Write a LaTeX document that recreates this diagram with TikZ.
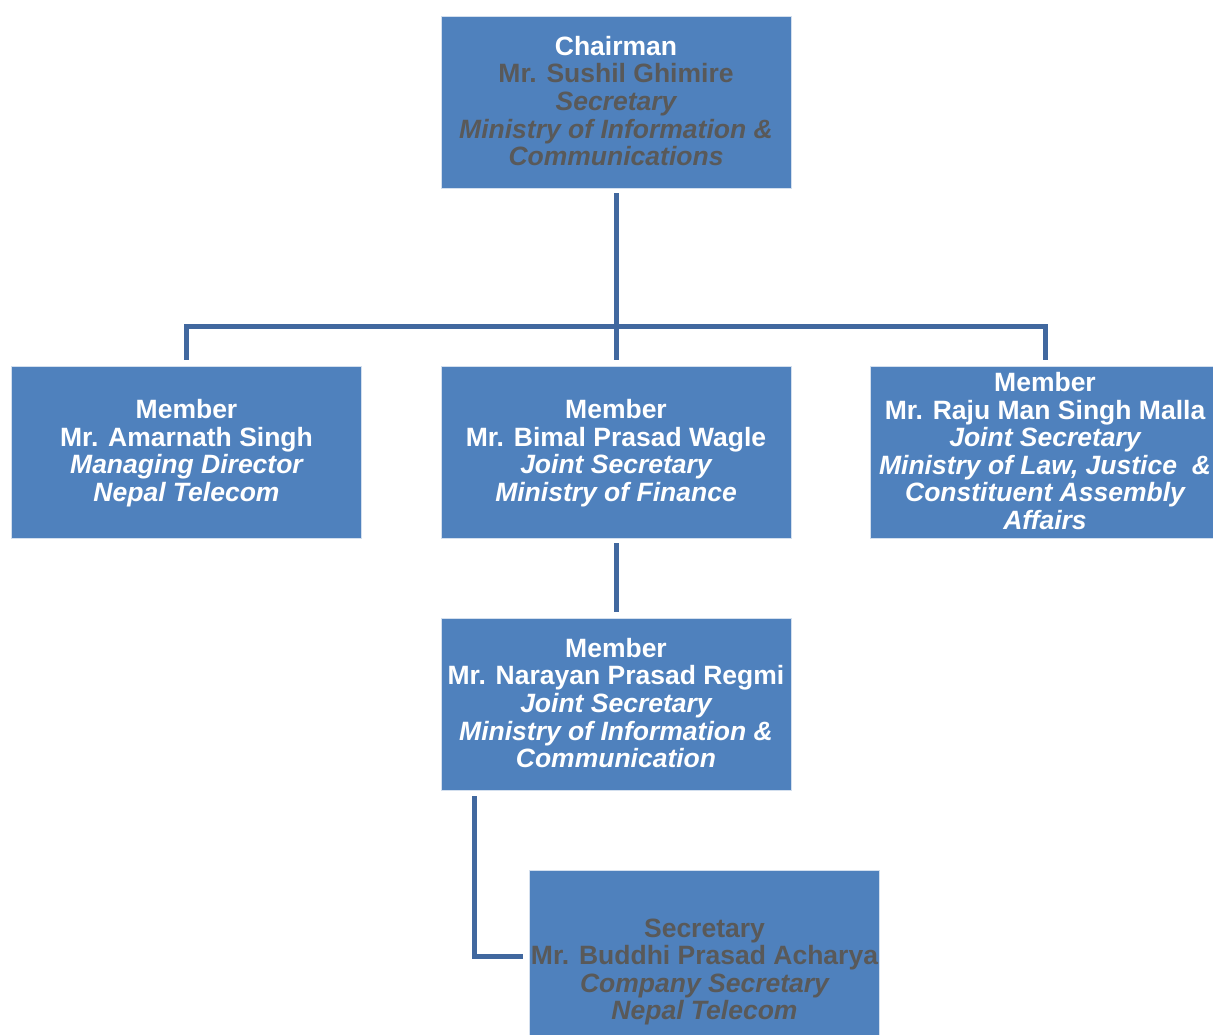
\documentclass[tikz,border=0pt]{standalone}
\usepackage{fontspec}
\setmainfont{Liberation Sans}
\definecolor{boxblue}{HTML}{4F81BD}
\definecolor{lineblue}{HTML}{41689F}
\definecolor{graytxt}{HTML}{595959}
\newcommand{\gr}[1]{\textcolor{graytxt}{#1}}
\newcommand{\gi}[1]{\textcolor{graytxt}{\itshape #1}}
\newcommand{\wi}[1]{{\itshape #1}}
\begin{document}
\begin{tikzpicture}[x=1pt,y=-1pt,
  box/.style={fill=boxblue, draw=white!75!boxblue, line width=0.8pt, minimum width=350pt, minimum height=172pt, inner sep=0pt},
  conn/.style={draw=lineblue, line width=5pt, line join=miter},
  txt/.style={align=center, font=\fontsize{26.5}{27.6}\selectfont\bfseries, text=white, inner sep=0pt}]
\useasboundingbox (0,0) rectangle (1213,1035);
\fill[white] (0,0) rectangle (1213,1035);

\node[box] (chair) at (616,102) {};
\node[txt] (chairT) at (616,101) {Chairman\\ \gr{Mr. Sushil Ghimire}\\ \gi{Secretary}\\ \gi{Ministry of Information \&}\\ \gi{Communications}};

\node[box] (left) at (186.5,452) {};
\node[txt] (leftT) at (186.5,453) {Member\\ Mr. Amarnath Singh\\ \wi{Managing Director}\\ \wi{Nepal Telecom}};

\node[box] (mid) at (616,452) {};
\node[txt] (midT) at (616,453) {Member\\ Mr. Bimal Prasad Wagle\\ \wi{Joint Secretary}\\ \wi{Ministry of Finance}};

\node[box] (right) at (1045,452) {};
\node[txt] (rightT) at (1045,451) {Member\\ Mr. Raju Man Singh Malla\\ \wi{Joint Secretary}\\ \wi{Ministry of Law, Justice\ \ \&}\\ \wi{Constituent Assembly}\\ \wi{Affairs}};

\node[box] (regmi) at (616,704) {};
\node[txt] (regmiT) at (616,703) {Member\\ Mr. Narayan Prasad Regmi\\ \wi{Joint Secretary}\\ \wi{Ministry of Information \&}\\ \wi{Communication}};

\node[box] (sec) at (704.5,956) {};
\node[txt] (secT) at (704.5,972) {\gr{Secretary}\\ \gr{Mr. Buddhi Prasad Acharya}\\ \gi{Company Secretary}\\ \gi{Nepal Telecom}};

\coordinate (j) at (616,326);
\draw[conn] ([yshift=-5pt]chair.south) -- ([yshift=6pt]mid.north);
\draw[conn] ([yshift=6pt]left.north) |- (j) -| ([yshift=6pt]right.north);
\draw[conn] ([yshift=-5pt]mid.south) -- ([yshift=6pt]regmi.north);
\draw[conn] ([xshift=-142pt,yshift=-6pt]regmi.south) |- ([xshift=-6pt]sec.west);
\end{tikzpicture}
\end{document}
